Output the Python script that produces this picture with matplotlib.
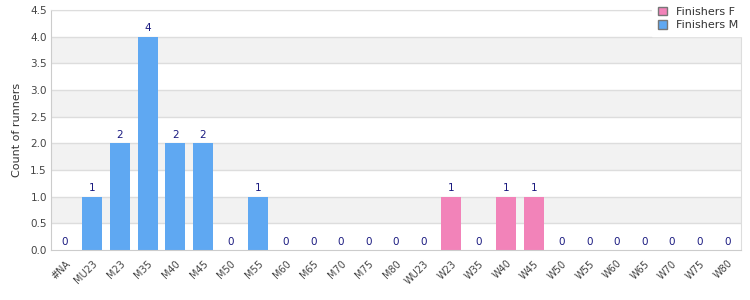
import numpy as np
import matplotlib.pyplot as plt
from matplotlib.patches import Patch

# --- DATA ---
categories = ['#NA', 'MU23', 'M23', 'M35', 'M40', 'M45', 'M50', 'M55', 'M60', 'M65',
              'M70', 'M75', 'M80', 'WU23', 'W23', 'W35', 'W40', 'W45', 'W50', 'W55',
              'W60', 'W65', 'W70', 'W75', 'W80']
counts = [0, 1, 2, 4, 2, 2, 0, 1, 0, 0, 0, 0, 0, 0, 1, 0, 1, 1, 0, 0, 0, 0, 0, 0, 0]
sex = ['M'] * 13 + ['F'] * 12

COL_M = '#5fa8f2'
COL_F = '#f283b9'
LABEL_COL = '#1a1a80'

fig = plt.figure(figsize=(7.5, 3), dpi=100)
ax = fig.add_axes([0.068, 0.1667, 0.92, 0.80])

x = np.arange(len(categories))
colors = [COL_M if s == 'M' else COL_F for s in sex]

# alternating bands
for lo in [0.5, 1.5, 2.5, 3.5]:
    ax.axhspan(lo, lo + 0.5, color='#f2f2f2', zorder=0, lw=0)
for y in np.arange(0.5, 4.6, 0.5):
    ax.axhline(y, color='#dddddd', lw=1, zorder=1)

ax.bar(x, counts, width=0.72, color=colors, zorder=2)
for xi, c in zip(x, counts):
    ax.text(xi, c + 0.06, str(c), ha='center', va='bottom', fontsize=7.5,
            color=LABEL_COL, zorder=3)

ax.set_xlim(-0.5, len(categories) - 0.5)
ax.set_ylim(0, 4.5)
ax.set_yticks(np.arange(0, 4.6, 0.5))
ax.set_yticklabels([f'{v:.1f}' for v in np.arange(0, 4.6, 0.5)], fontsize=7.5, color='#444444')
ax.set_xticks(x)
ax.set_xticklabels(categories, rotation=45, ha='right', rotation_mode='anchor',
                   fontsize=7, color='#444444')
ax.tick_params(axis='both', length=0, pad=3)
ax.tick_params(axis='x', pad=6)
ax.set_ylabel('Count of runners', fontsize=8, color='#333333', labelpad=6)

for side in ['left', 'bottom']:
    ax.spines[side].set_color('#cccccc')
for side in ['top', 'right']:
    ax.spines[side].set_color('#dddddd')

handles = [Patch(facecolor=COL_F, edgecolor='#777777', label='Finishers F'),
           Patch(facecolor=COL_M, edgecolor='#777777', label='Finishers M')]
leg = fig.legend(handles=handles, loc='upper left', bbox_to_anchor=(0.862, 1.015),
                 fontsize=8, frameon=True, handlelength=0.8, handleheight=0.8,
                 handletextpad=0.9, labelspacing=0.3, borderpad=0.5)
leg.set_zorder(10)
leg.get_frame().set_edgecolor('white')
leg.get_frame().set_facecolor('white')
leg.get_frame().set_alpha(1)
leg.get_frame().set_boxstyle('square', pad=0)
for t in leg.get_texts():
    t.set_color('#333333')

fig.savefig('out.png', dpi=100)
